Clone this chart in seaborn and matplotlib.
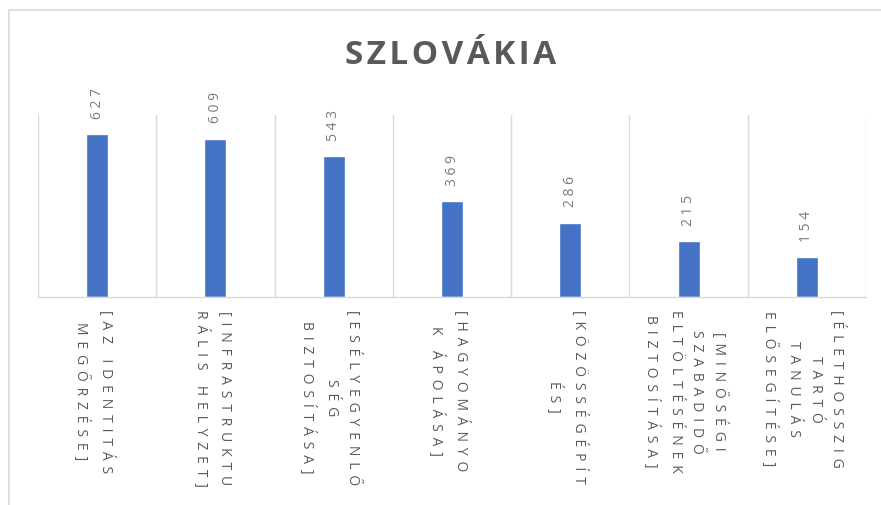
import matplotlib
matplotlib.use("Agg")
import matplotlib.pyplot as plt
import seaborn as sns
import pandas as pd
from matplotlib.lines import Line2D
from matplotlib.transforms import offset_copy

categories = [
    "[AZ IDENTITÁS\nMEGŐRZÉSE]",
    "[INFRASTRUKTU\nRÁLIS HELYZET]",
    "[ESÉLYEGYENLŐ\nSÉG\nBIZTOSÍTÁSA]",
    "[HAGYOMÁNYO\nK ÁPOLÁSA]",
    "[KÖZÖSSÉGÉPÍT\nÉS]",
    "[MINŐSÉGI\nSZABADIDŐ\nELTÖLTÉSÉNEK\nBIZTOSÍTÁSA]",
    "[ÉLETHOSSZIG\nTARTÓ\nTANULÁS\nELŐSEGÍTÉSE]",
]
values = [627, 609, 543, 369, 286, 215, 154]
title = "SZLOVÁKIA"

sns.set_theme(style="white")
FAM = ["Open Sans", "DejaVu Sans"]
plt.rcParams["font.family"] = FAM

W, H = 881, 505
fig = plt.figure(figsize=(W / 100, H / 100), dpi=100)
ax = fig.add_axes([38 / W, 1 - 297 / H, (866 - 38) / W, (297 - 115) / H])

df = pd.DataFrame({"cat": list(range(len(categories))), "val": values})
sns.barplot(data=df, x="cat", y="val", color="#4472C4", width=0.186,
            saturation=1, ax=ax)

def spaced(s, sep):
    return "\n".join(sep.join(list(line)) for line in s.split("\n"))

LSEP = " \u2009"

ax.set_ylim(0, 700)
ax.set_xlim(-0.5, len(categories) - 0.5)
ax.set_yticks([])
ax.set_xlabel("")
ax.set_ylabel("")
ax.set_xticks(range(len(categories)))
ax.set_xticklabels([""] * len(categories))
ax.tick_params(axis="x", length=0)
ax.set_xticks([i - 0.5 for i in range(len(categories) + 1)], minor=True)
ax.tick_params(axis="x", which="minor", length=0)
ax.grid(False)
ax.grid(True, axis="x", which="minor", color="#d9d9d9", linewidth=1)
for s in ["top", "right", "left"]:
    ax.spines[s].set_visible(False)
ax.spines["bottom"].set_color("#d9d9d9")
ax.spines["bottom"].set_linewidth(1)

lab_tr = offset_copy(ax.get_xaxis_transform(), fig=fig, x=-3, y=-13, units="dots")
for i, c in enumerate(categories):
    ax.text(i, 0, spaced(c, LSEP), transform=lab_tr, rotation=-90,
            ha="center", va="top", multialignment="center", fontsize=10,
            color="#595959", linespacing=1.6)

for i, v in enumerate(values):
    ax.annotate(spaced(str(v), " "), (i, v), xytext=(0, 11), textcoords="offset points",
                rotation=90, ha="center", va="bottom", fontsize=10,
                color="#7a7a7a")

fig.text(451 / W, 1 - 56 / H, spaced(title, "\u200a"), ha="center", va="center",
         fontsize=24, fontweight="bold", color="#595959")

fig.add_artist(Line2D([8.5 / W, 8.5 / W], [0, 1 - 10 / H], color="#d9d9d9",
                      linewidth=1.2, transform=fig.transFigure))
fig.add_artist(Line2D([8.5 / W, 1], [1 - 10 / H, 1 - 10 / H], color="#d9d9d9",
                      linewidth=1.2, transform=fig.transFigure))

fig.savefig("out.png", dpi=100, facecolor="white")
